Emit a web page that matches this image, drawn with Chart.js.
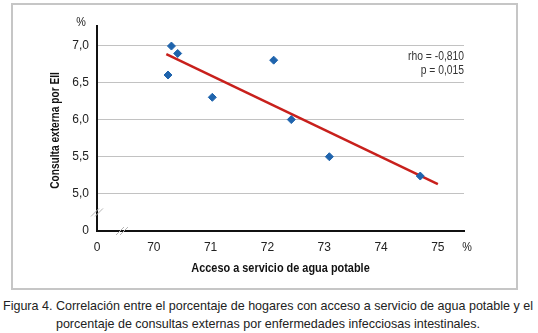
<!DOCTYPE html>
<html>
<head>
<meta charset="utf-8">
<script src="https://cdn.jsdelivr.net/npm/chart.js@4"></script>
<style>
    body { margin: 0; background: #fff; width: 538px; height: 333px; position: relative; overflow: hidden;
           font-family: 'Liberation Sans', Arial, sans-serif; }
    #box { position: absolute; left: 11px; top: 3px; width: 503px; height: 283px; border: 2px solid #c6c6c6; }
    .cap { position: absolute; left: 268px; white-space: nowrap; font-size: 13px; line-height: 17px;
           color: #222; transform-origin: 50% 50%; }
</style>
</head>
<body>
<div id="box"><canvas id="chart" width="503" height="283"></canvas></div>
<div class="cap" id="cap1" style="top:297px">Figura 4. Correlación entre el porcentaje de hogares con acceso a servicio de agua potable y el</div>
<div class="cap" id="cap2" style="top:315px">porcentaje de consultas externas por enfermedades infecciosas intestinales.</div>
<script>
// Data
const accesoAgua = [70.25, 70.31, 70.42, 71.03, 72.11, 72.42, 73.09, 74.69];
const consultaEII = [6.6, 6.99, 6.89, 6.3, 6.8, 6.0, 5.5, 5.24];
const tendenciaX = [70.22, 75.0];
const tendenciaY = [6.88, 5.13];

// broken axes: first tick stands for 0
const xTicks = [69, 70, 71, 72, 73, 74, 75];
const xTickLabels = ['0', '70', '71', '72', '73', '74', '75'];
const yTicks = [4.5, 5, 5.5, 6, 6.5, 7];
const yTickLabels = ['0', '5,0', '5,5', '6,0', '6,5', '7,0'];

const FONT = "'Liberation Sans', Arial, sans-serif";

// caption is set in a condensed face in the original: squeeze to fit
const cap1 = document.getElementById('cap1'), cap2 = document.getElementById('cap2');
const sq = 530 / cap1.getBoundingClientRect().width;
[cap1, cap2].forEach(el => { el.style.transform = 'translateX(-50%) scaleX(' + sq + ')'; });

function narrowText(ctx, text, x, y, sx, rot) {
    ctx.save();
    ctx.translate(x, y);
    if (rot) ctx.rotate(rot);
    ctx.scale(sx, 1);
    ctx.fillText(text, 0, 0);
    ctx.restore();
}

const extras = {
    id: 'extras',
    afterDraw(chart) {
        const ctx = chart.ctx;
        const xs = chart.scales.x, ys = chart.scales.y;
        const area = chart.chartArea;
        ctx.save();

        // axis break marks
        ctx.strokeStyle = '#b5b5b5';
        ctx.lineWidth = 1;
        const by = ys.getPixelForValue(4.75);
        const bx = xs.getPixelForValue(69.44);
        [-2, 2].forEach(d => {
            ctx.beginPath();
            ctx.moveTo(area.left - 4 + d, by + 4);
            ctx.lineTo(area.left + 4 + d, by - 4);
            ctx.stroke();
            ctx.beginPath();
            ctx.moveTo(bx - 4 + d, area.bottom + 4);
            ctx.lineTo(bx + 4 + d, area.bottom - 4);
            ctx.stroke();
        });

        ctx.fillStyle = '#222';
        ctx.font = '12px ' + FONT;
        ctx.textBaseline = 'middle';
        ctx.textAlign = 'center';
        narrowText(ctx, '%', area.left - 16, area.top - 3, 0.9);
        narrowText(ctx, '%', area.right + 3, area.bottom + 17, 0.9);

        // correlation note
        ctx.textAlign = 'right';
        ctx.fillStyle = '#333';
        narrowText(ctx, 'rho = -0,810', area.right, ys.getPixelForValue(6.85), 0.86);
        narrowText(ctx, 'p = 0,015', area.right, ys.getPixelForValue(6.66), 0.86);

        // axis titles
        ctx.fillStyle = '#111';
        ctx.font = 'bold 13px ' + FONT;
        ctx.textAlign = 'center';
        narrowText(ctx, 'Acceso a servicio de agua potable', (area.left + area.right) / 2, 263, 0.84);
        narrowText(ctx, 'Consulta externa por EII', 42, (area.top + area.bottom) / 2 + 2, 0.78, -Math.PI / 2);
        ctx.restore();
    }
};

new Chart(document.getElementById('chart'), {
    type: 'scatter',
    data: {
        datasets: [{
            data: accesoAgua.map((x, i) => ({ x: x, y: consultaEII[i] })),
            backgroundColor: '#1f64ad',
            borderColor: '#1f64ad',
            pointStyle: 'rectRot',
            pointRadius: 4,
            order: 1
        }, {
            type: 'line',
            data: tendenciaX.map((x, i) => ({ x: x, y: tendenciaY[i] })),
            borderColor: '#c8201c',
            borderWidth: 2.5,
            pointRadius: 0,
            order: 2
        }]
    },
    options: {
        responsive: false,
        animation: false,
        layout: { padding: { left: 0, top: 21, right: 52, bottom: 0 } },
        plugins: { legend: { display: false }, tooltip: { enabled: false } },
        scales: {
            x: {
                type: 'linear', min: 69, max: 75.46,
                afterBuildTicks: s => { s.ticks = xTicks.map(v => ({ value: v })); },
                afterFit: s => { s.height = 57; },
                ticks: {
                    color: '#222', padding: 9, maxRotation: 0,
                    font: { family: FONT, size: 12 },
                    callback: v => xTickLabels[xTicks.indexOf(v)]
                },
                grid: { display: false, drawTicks: false },
                border: { color: '#111', width: 2 }
            },
            y: {
                type: 'linear', min: 4.5, max: 7.26,
                afterBuildTicks: s => { s.ticks = yTicks.map(v => ({ value: v })); },
                afterFit: s => { s.width = 84; },
                ticks: {
                    color: '#222', padding: 8,
                    font: { family: FONT, size: 12 },
                    callback: v => yTickLabels[yTicks.indexOf(v)]
                },
                grid: {
                    drawTicks: false,
                    color: c => (c.tick && c.tick.value === 4.5) ? 'rgba(0,0,0,0)' : '#c2c2c2',
                    lineWidth: 1
                },
                border: { color: '#111', width: 2 }
            }
        }
    },
    plugins: [extras]
});
</script>
</body>
</html>
